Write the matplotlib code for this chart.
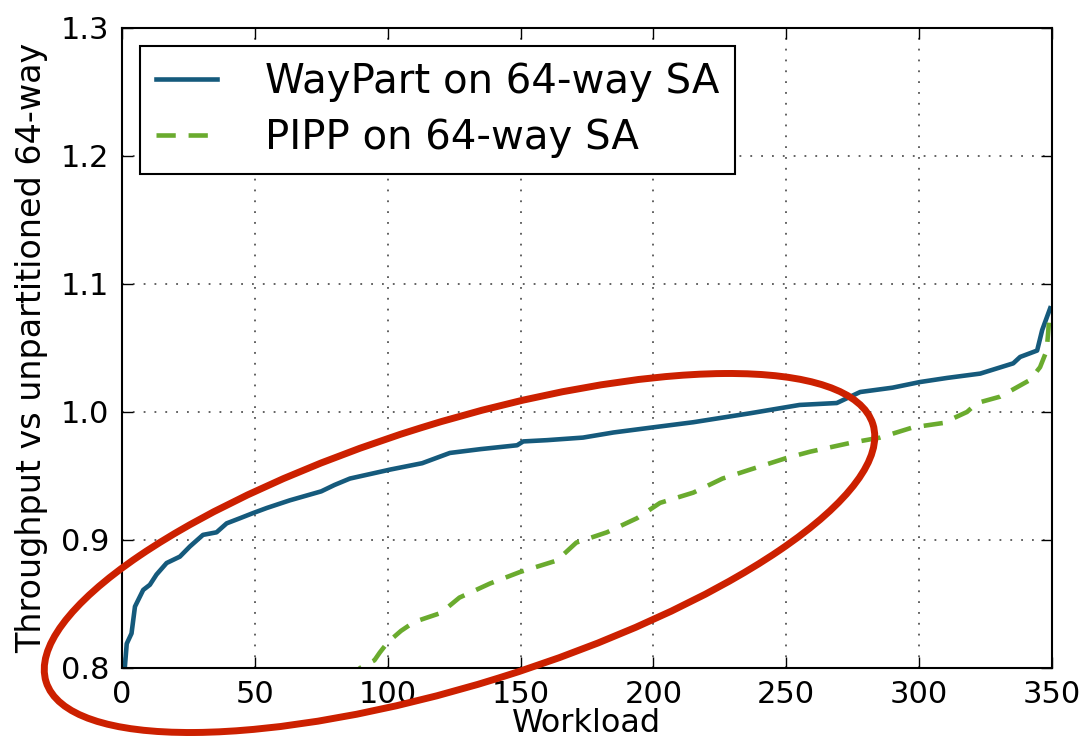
import numpy as np
import matplotlib.pyplot as plt
from matplotlib.patches import Ellipse
from matplotlib.transforms import IdentityTransform

# WayPart on 64-way SA (sorted per-workload throughput)
waypart_x = [0, 1.1, 1.8, 3.6, 4.9, 8, 10.5, 13, 16.8, 21.8, 25.6, 30.5, 35.6, 39.4, 44.4,
             49.3, 54.5, 63.2, 75, 80, 85.8, 100.9, 113, 123.4, 135, 148.7, 151, 160,
             173.5, 185, 199.9, 215, 236.4, 255, 269, 277.8, 290, 300.3, 310.5, 323,
             335.4, 338, 344.4, 346.3, 349.3]
waypart_y = [0.78, 0.801, 0.819, 0.827, 0.848, 0.861, 0.865, 0.873, 0.882, 0.887, 0.895,
             0.904, 0.906, 0.913, 0.917, 0.921, 0.925, 0.931, 0.938, 0.943, 0.948, 0.955,
             0.960, 0.968, 0.971, 0.974, 0.977, 0.978, 0.980, 0.984, 0.988, 0.992, 0.999,
             1.0055, 1.007, 1.0156, 1.019, 1.0234, 1.0266, 1.030, 1.038, 1.043, 1.048,
             1.064, 1.081]

# PIPP on 64-way SA
pipp_x = [85, 89.6, 95, 97, 100, 105, 110, 120, 127, 138.5, 149.8, 163.7, 171, 182.5,
          193.8, 202.5, 215, 226, 236.4, 250, 259, 274, 285.3, 297.7, 309, 318, 321.8,
          330.5, 341.7, 345.5, 348, 349]
pipp_y = [0.79, 0.80, 0.806, 0.812, 0.820, 0.829, 0.836, 0.843, 0.855, 0.866, 0.875,
          0.884, 0.898, 0.906, 0.917, 0.929, 0.937, 0.948, 0.955, 0.964, 0.969, 0.9758,
          0.980, 0.988, 0.9914, 1.000, 1.007, 1.012, 1.025, 1.035, 1.048, 1.074]

xticks = [0, 50, 100, 150, 200, 250, 300, 350]
yticks = [0.8, 0.9, 1.0, 1.1, 1.2, 1.3]

fig = plt.figure(figsize=(10.85, 7.4), dpi=100)
ax = fig.add_axes([0.1124, 0.0973, 0.8572, 0.8649])

ax.plot(waypart_x, waypart_y, color='#155a7c', lw=3.3, label='WayPart on 64-way SA')
ax.plot(pipp_x, pipp_y, color='#6aab2e', lw=3.3, ls=(0, (4.2, 2.8)), label='PIPP on 64-way SA')

ax.set_xlim(0, 350)
ax.set_ylim(0.8, 1.3)
ax.set_xticks(xticks)
ax.set_yticks(yticks)
ax.set_yticklabels(['%.1f' % v for v in yticks])
ax.grid(True, ls=(0, (1, 5)), color='#555555', lw=1.3)
ax.tick_params(direction='in', length=8, width=1, labelsize=22, top=True, right=True, pad=9)
for s in ax.spines.values():
  s.set_linewidth(1.5)

ax.set_xlabel('Workload', fontsize=23, labelpad=-1)
ax.set_ylabel('Throughput vs unpartitioned 64-way', fontsize=24, labelpad=9)

leg = ax.legend(loc='upper left', fontsize=29, fancybox=False, framealpha=1,
                edgecolor='black', handlelength=1.5, handletextpad=1.2,
                borderaxespad=0.45, borderpad=0.4, labelspacing=0.4)
leg.get_frame().set_linewidth(1.5)

# red hand-drawn style highlight ellipse (pixel coords)
ell = Ellipse((459.5, 187), 866, 262, angle=17.3, fill=False, edgecolor='#cc2000',
              lw=5, transform=IdentityTransform(), clip_on=False)
fig.patches.append(ell)

fig.savefig('out.png', dpi=100)
